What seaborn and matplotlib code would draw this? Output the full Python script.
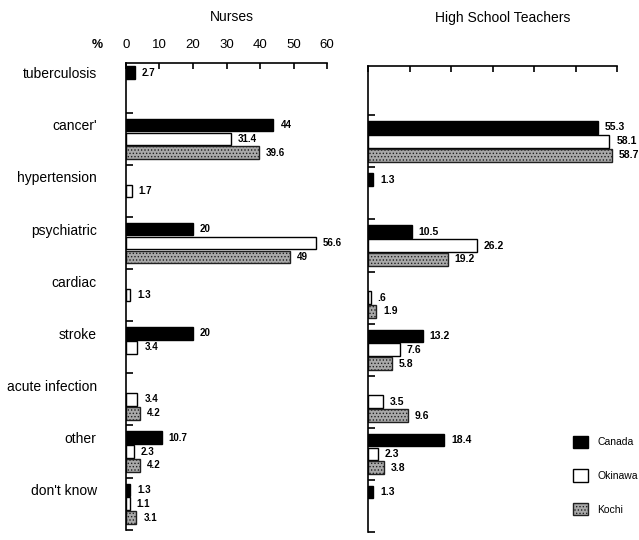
import numpy as np
import pandas as pd
import matplotlib
matplotlib.use('Agg')
import matplotlib.pyplot as plt
from matplotlib.ticker import FixedLocator
import seaborn as sns

# data (NaN = no bar)
causes = ['tuberculosis', "cancer'", 'hypertension', 'psychiatric', 'cardiac',
          'stroke', 'acute infection', 'other', "don't know"]
groups = ['Canada', 'Okinawa', 'Kochi']

nurses_canada = [2.7, 44, np.nan, 20, np.nan, 20, np.nan, 10.7, 1.3]
nurses_okinawa = [np.nan, 31.4, 1.7, 56.6, 1.3, 3.4, 3.4, 2.3, 1.1]
nurses_kochi = [np.nan, 39.6, np.nan, 49, np.nan, np.nan, 4.2, 4.2, 3.1]

teach_canada = [np.nan, 55.3, 1.3, 10.5, np.nan, 13.2, np.nan, 18.4, 1.3]
teach_okinawa = [np.nan, 58.1, np.nan, 26.2, 0.6, 7.6, 3.5, 2.3, np.nan]
teach_kochi = [np.nan, 58.7, np.nan, 19.2, 1.9, 5.8, 9.6, 3.8, np.nan]

x_ticks = [0, 10, 20, 30, 40, 50, 60]


def long_table(canada, okinawa, kochi):
    df = pd.DataFrame({'cause': causes, 'Canada': canada,
                       'Okinawa': okinawa, 'Kochi': kochi})
    df = df.melt(id_vars='cause', var_name='group', value_name='pct')
    return df.dropna()


def fmt_val(v):
    s = f'{v:g}'
    return s[1:] if s.startswith('0.') else s


styles = {
    'Canada': dict(facecolor='black', edgecolor='black', hatch=None),
    'Okinawa': dict(facecolor='white', edgecolor='black', hatch=None),
    'Kochi': dict(facecolor='#a9a9a9', edgecolor='#202020', hatch='.....'),
}

plt.rcParams['font.family'] = ['Liberation Sans', 'DejaVu Sans']
plt.rcParams['hatch.linewidth'] = 0.6

fig = plt.figure(figsize=(6.39, 5.40), dpi=100)
ax1 = fig.add_axes([0.197, 0.019, 0.315, 0.864])
ax2 = fig.add_axes([0.576, 0.015, 0.390, 0.863])

panels = [
    (ax1, long_table(nurses_canada, nurses_okinawa, nurses_kochi), 'Nurses', 7),
    (ax2, long_table(teach_canada, teach_okinawa, teach_kochi), 'High School Teachers', 7.5),
]

for ax, df, title, lab_fs in panels:
    sns.barplot(data=df, y='cause', x='pct', hue='group', order=causes,
                hue_order=groups, orient='h', errorbar=None, width=0.8,
                gap=0.1, ax=ax, legend=False)
    for cont, g in zip(ax.containers, groups):
        for bar in cont:
            bar.set_facecolor(styles[g]['facecolor'])
            bar.set_edgecolor(styles[g]['edgecolor'])
            bar.set_linewidth(1.0)
            if styles[g]['hatch']:
                bar.set_hatch(styles[g]['hatch'])
        ax.bar_label(cont, fmt=fmt_val, padding=5, fontsize=lab_fs,
                     fontweight='bold')

    ax.set_xlim(0, 60)
    ax.set_ylim(8.5, -0.45)
    ax.xaxis.tick_top()
    ax.set_xticks(x_ticks)
    ax.tick_params(axis='x', direction='in', length=4, width=1.2, pad=9,
                   labelsize=9.5)
    ax.yaxis.set_minor_locator(FixedLocator([i + 0.5 for i in range(9)]))
    ax.tick_params(axis='y', which='minor', direction='in', length=5, width=1.2)
    ax.tick_params(axis='y', which='major', length=0)
    for side in ['right', 'bottom']:
        ax.spines[side].set_visible(False)
    for side in ['top', 'left']:
        ax.spines[side].set_linewidth(1.2)
    ax.set_xlabel('')
    ax.set_ylabel('')
    ax.set_facecolor('white')

# category labels sit beside the Canada bar of each group
ax1.set_yticks([i - 0.267 for i in range(len(causes))])
ax1.set_yticklabels(causes, fontsize=10)
ax1.tick_params(axis='y', which='major', pad=21)
ax2.set_yticks([])
ax2.tick_params(axis='x', labeltop=False)

fig.text(232 / 639, 1 - 17 / 540, 'Nurses', ha='center', va='center', fontsize=10)
fig.text(503 / 639, 1 - 18 / 540, 'High School Teachers', ha='center',
         va='center', fontsize=10)
fig.text(97 / 639, 1 - 45 / 540, '%', ha='center', va='center', fontsize=9,
         fontweight='bold')

handles = [plt.Rectangle((0, 0), 1, 1, linewidth=1.0, **styles[g]) for g in groups]
fig.legend(handles, groups, loc='upper left', bbox_to_anchor=(0.888, 0.203),
           frameon=False, fontsize=7.5, handlelength=1.45, handleheight=1.45,
           labelspacing=2.05, handletextpad=0.9, borderpad=0)

fig.savefig('out.png', dpi=100)
